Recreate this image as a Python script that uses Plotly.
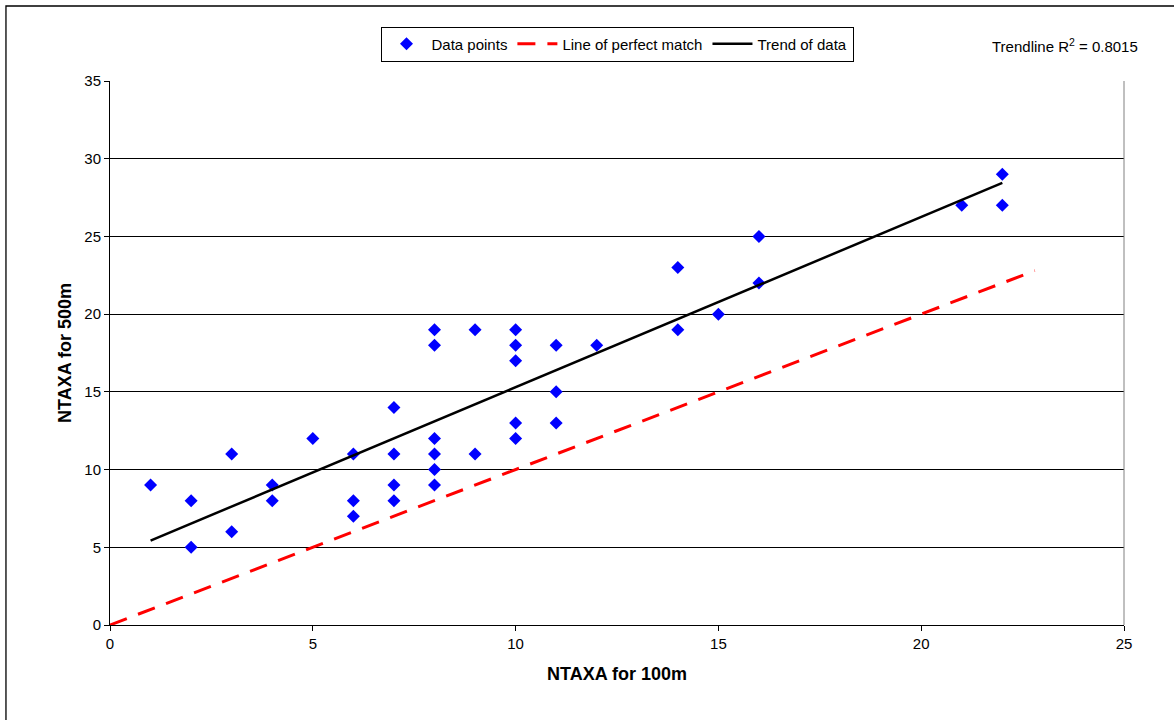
import numpy as np
import plotly.graph_objects as go

# Data points
ntaxa_100m = [1, 2, 2, 3, 3, 4, 4, 5, 6, 6, 6, 7, 7, 7, 7,
              8, 8, 8, 8, 8, 8, 9, 9, 10, 10, 10, 10, 10,
              11, 11, 11, 12, 14, 14, 15, 16, 16, 21, 22, 22]
ntaxa_500m = [9, 8, 5, 11, 6, 9, 8, 12, 11, 8, 7, 14, 11, 9, 8,
              19, 18, 12, 11, 10, 9, 19, 11, 19, 18, 17, 13, 12,
              18, 15, 13, 18, 23, 19, 20, 25, 22, 27, 29, 27]

perfect_x = [0, 22.8]
perfect_y = [0, 22.8]

x_ticks = [0, 5, 10, 15, 20, 25]
y_ticks = [0, 5, 10, 15, 20, 25, 30, 35]

r2_text = "Trendline R<sup>2</sup> = 0.8015"

# Linear trend of data
slope, intercept = np.polyfit(ntaxa_100m, ntaxa_500m, 1)
trend_x = [min(ntaxa_100m), max(ntaxa_100m)]
trend_y = [slope * v + intercept for v in trend_x]

FONT = "Liberation Sans, Arial, sans-serif"

fig = go.Figure()
fig.add_trace(go.Scatter(
    x=ntaxa_100m, y=ntaxa_500m, mode="markers", name="Data points",
    marker=dict(symbol="diamond", size=10, color="#0000FF", line=dict(width=0)),
))
fig.add_trace(go.Scatter(
    x=perfect_x, y=perfect_y, mode="lines", name="Line of perfect match",
    line=dict(color="#FF0000", width=3, dash="18px,12px"),
))
fig.add_trace(go.Scatter(
    x=trend_x, y=trend_y, mode="lines", name="Trend of data",
    line=dict(color="#000000", width=2.5),
))

fig.update_layout(
    width=1174, height=720,
    margin=dict(l=110, r=50, t=81, b=95),
    paper_bgcolor="white", plot_bgcolor="white",
    font=dict(family=FONT, size=15, color="black"),
    showlegend=True,
    legend=dict(
        orientation="h", x=0.5, xanchor="center", y=1.1, yanchor="top",
        bgcolor="white", bordercolor="black", borderwidth=1,
        font=dict(family=FONT, size=15, color="black"),
        itemwidth=40, tracegroupgap=0,
    ),
    xaxis=dict(
        range=[0, 25], tickvals=x_ticks, showgrid=False, zeroline=False,
        showline=True, linecolor="black", linewidth=1,
        ticks="outside", ticklen=5, tickcolor="black",
        tickfont=dict(family=FONT, size=15),
        title=dict(text="<b>NTAXA for 100m</b>", font=dict(family=FONT, size=18), standoff=16),
    ),
    yaxis=dict(
        range=[0, 35], tickvals=y_ticks, showgrid=True, gridcolor="black", gridwidth=1,
        zeroline=False, showline=True, linecolor="black", linewidth=1,
        ticks="outside", ticklen=5, tickcolor="black",
        tickfont=dict(family=FONT, size=15),
        title=dict(text="<b>NTAXA for 500m</b>", font=dict(family=FONT, size=18), standoff=8),
    ),
    annotations=[dict(
        text=r2_text, xref="paper", yref="paper", x=0.942, y=1.066,
        xanchor="center", yanchor="middle", showarrow=False,
        font=dict(family=FONT, size=15, color="black"),
    )],
    shapes=[
        # plot area right border
        dict(type="line", xref="paper", yref="paper", x0=1, x1=1, y0=0, y1=1,
             line=dict(color="#808080", width=1)),
        # outer chart border
        dict(type="rect", xref="paper", yref="paper",
             x0=-0.1026, x1=1.08, y0=-0.2, y1=1.1379,
             line=dict(color="black", width=1.3), layer="below"),
    ],
)

fig.write_html("out.html")
